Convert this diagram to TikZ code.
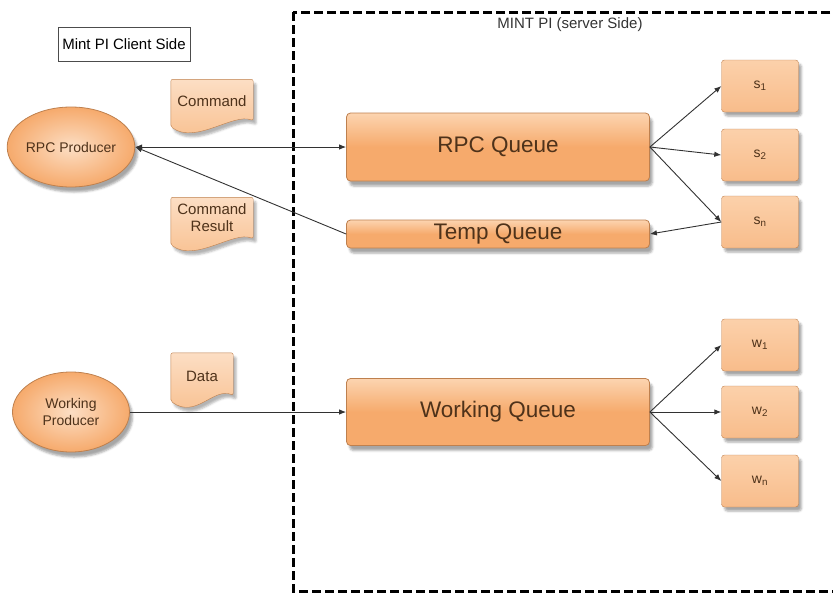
\documentclass[tikz,border=0pt]{standalone}
\usepackage{fontspec}
\setmainfont{Liberation Sans}
\usetikzlibrary{shapes.geometric,arrows.meta,shadows.blur}

\definecolor{qfill}{RGB}{246,170,108}
\definecolor{qlight}{RGB}{252,212,176}
\definecolor{qedge}{RGB}{190,128,78}
\definecolor{qtext}{RGB}{78,50,26}
\definecolor{dfill}{RGB}{248,190,140}
\definecolor{dlight}{RGB}{252,222,196}
\definecolor{linegray}{RGB}{50,50,50}

\begin{document}
\begin{tikzpicture}[x=1pt, y=-1pt,
        myqueue/.style={rectangle, rounded corners=4pt, draw=qedge, thick,
            top color=qlight, bottom color=qfill, middle color=qfill,
            minimum width=303pt, inner sep=2pt, text=qtext,
            font=\fontsize{22.5}{26}\selectfont,
            blur shadow={shadow xshift=3pt, shadow yshift=-5pt, shadow opacity=35}},
        myworker/.style={rectangle, rounded corners=3pt, draw=qedge,
            top color=qlight!85!dfill, bottom color=qfill!65!dlight,
            minimum width=77pt, minimum height=52pt, text=qtext,
            font=\fontsize{14}{16}\selectfont,
            blur shadow={shadow xshift=3pt, shadow yshift=-4pt, shadow opacity=35}},
        myproducer/.style={ellipse, draw=qedge, thick,
            inner color=dlight, outer color=qfill,
            minimum width=117pt, minimum height=80pt, inner sep=0pt,
            align=center, text=qtext, font=\fontsize{14}{17}\selectfont,
            blur shadow={shadow xshift=3pt, shadow yshift=-5pt, shadow opacity=35}},
        mydoc/.style={rectangle, inner sep=1pt, align=center, text=qtext,
            font=\fontsize{15}{17}\selectfont},
        mypaper/.style={draw=qedge, rounded corners=2pt,
            top color=dlight, bottom color=dfill,
            blur shadow={shadow xshift=3pt, shadow yshift=-4pt, shadow opacity=30}},
        myarrow/.style={draw=linegray, line width=0.9pt,
            >={Latex[length=7pt, width=5.5pt]}},
        myframe/.style={draw=black, line width=3pt, dash pattern=on 9pt off 4pt}
    ]
    \useasboundingbox (0,0) rectangle (833,595);
    \clip (0,0) rectangle (833,595);

    % server side frame
    \draw [myframe] (293,12) rectangle (860,591);
    \node [text=black!80, font=\fontsize{15}{17}\selectfont] (srvlabel)
        at (570,25) {MINT PI (server Side)};

    % client side
    \node [draw=black!70, thin, minimum width=132pt, minimum height=34pt,
           font=\fontsize{15}{17}\selectfont] (client)
        at (124,44) {Mint PI Client Side};

    \node [myproducer] (rpcp)  at (71,147) {RPC Producer};
    \node [myproducer] (wprod) at (71,412) {Working\\Producer};

    % message papers first, their texts on top
    \node [mydoc, minimum width=82pt, minimum height=47pt] (cmd)  at (212,103) {};
    \node [mydoc, minimum width=82pt, minimum height=47pt] (cres) at (212,221) {};
    \node [mydoc, minimum width=62pt, minimum height=48pt] (data) at (202,377) {};
    \foreach \d in {cmd,cres,data}
        \draw [mypaper] (\d.south west) -- (\d.north west) -- (\d.north east)
            -- ([yshift=6pt]\d.south east)
            .. controls +(-20pt,8pt) and +(25pt,-18pt) .. (\d.south west) -- cycle;
    \node [mydoc] (cmdtext)  at ([yshift=2pt]cmd)  {Command};
    \node [mydoc] (crestext) at ([yshift=3pt]cres) {Command\\Result};
    \node [mydoc] (datatext) at ([yshift=1pt]data) {Data};

    % queues
    \node [myqueue, minimum height=68pt] (rpcq)  at (498,147) {RPC Queue};
    \node [myqueue, minimum height=28pt] (tempq) at (498,234) {Temp Queue};
    \node [myqueue, minimum height=67pt] (workq) at (498,412) {Working Queue};

    % consumers
    \node [myworker] (s1) at (760,86)  {s\textsubscript{1}};
    \node [myworker] (s2) at (760,155) {s\textsubscript{2}};
    \node [myworker] (sn) at (760,222) {s\textsubscript{n}};
    \node [myworker] (w1) at (760,345) {w\textsubscript{1}};
    \node [myworker] (w2) at (760,412) {w\textsubscript{2}};
    \node [myworker] (wn) at (760,481) {w\textsubscript{n}};

    % connectors
    \draw [myarrow, <->] (rpcp.east) -- (rpcq.west);
    \draw [myarrow, ->] (tempq.west) -- (rpcp.east);
    \foreach \s in {s1,s2,sn}
        \draw [myarrow, ->] (rpcq.east) -- (\s.west);
    \draw [myarrow, ->] (sn.west) -- (tempq.east);

    \draw [myarrow, ->] (wprod.east) -- (workq.west);
    \foreach \w in {w1,w2,wn}
        \draw [myarrow, ->] (workq.east) -- (\w.west);
\end{tikzpicture}
\end{document}
